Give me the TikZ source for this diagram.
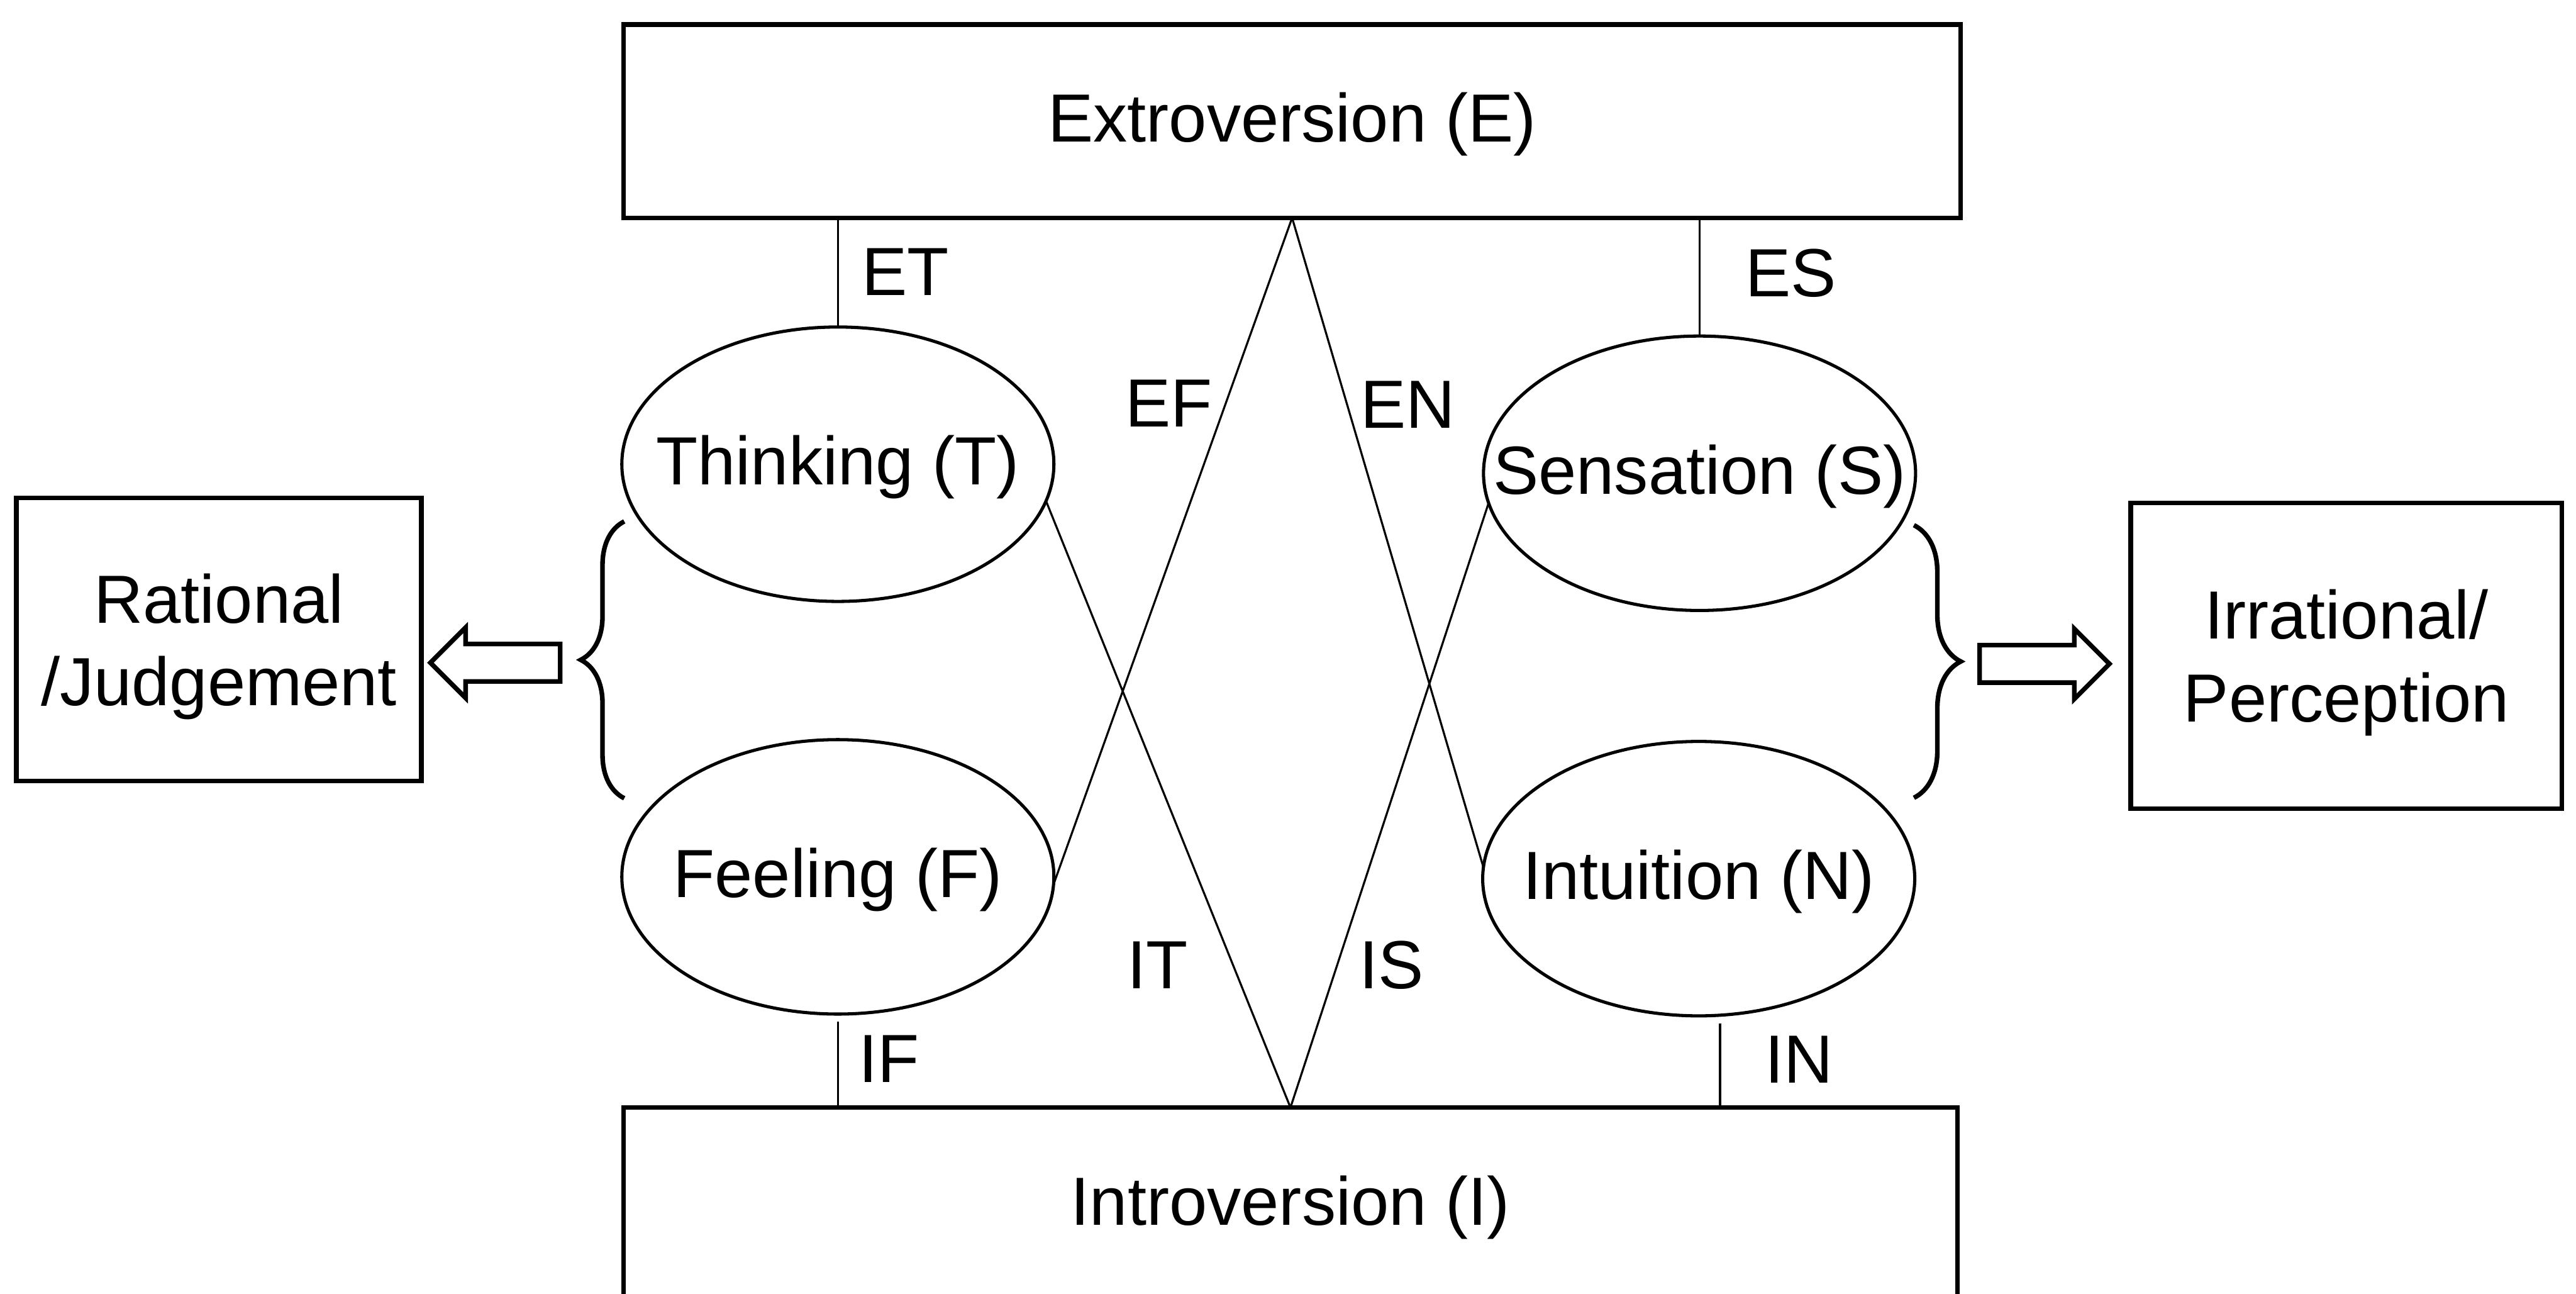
\documentclass[tikz,border=0pt]{standalone}
\usepackage{fontspec}
\setmainfont{Liberation Sans}
\usetikzlibrary{shapes.geometric,shapes.arrows,decorations.pathreplacing}
\newcommand{\lien}[2]{\draw[fin] (#1) -- (#2)}
\newcommand{\etiq}[3]{\node[etiq] (#1) at (#2) {#3}}
\newcommand{\fct}[3]{\node[fct] (#1) at (#2) {#3}}
\newcommand{\accol}[3]{\draw[line width=0.8pt, decorate,
	decoration={brace, amplitude=#3}] (#1) -- (#2)}

\tikzset{
	fin/.style={line width=0.35pt},
	pole/.style={draw, line width=0.8pt, rectangle, inner sep=0pt, outer sep=0pt,
		text height=0.9em, text depth=0.184em},
	cote/.style={draw, line width=0.8pt, rectangle, inner sep=0pt, outer sep=0pt,
		align=center, text depth=0pt},
	fct/.style={draw, ellipse, line width=0.55pt, inner xsep=-4mm, inner ysep=0pt,
		outer sep=0pt, minimum width=2.63cm, minimum height=1.67cm,
		text height=0.9em, text depth=0.184em},
	etiq/.style={inner sep=0pt, text height=0.9em, text depth=0.184em},
	bloc/.style={draw, single arrow, line width=0.8pt, inner xsep=0pt,
		inner ysep=1mm, outer sep=0pt, minimum height=7.9mm,
		single arrow head extend=1mm, single arrow tip angle=90}
}

\begin{document}
\begin{tikzpicture}[x=0.1mm, y=-0.1mm, font=\fontsize{11.8}{14.3}\selectfont]
\useasboundingbox (0,0) rectangle (1568,787.4);
%Attitudes
	\node[pole, minimum width=8.14cm, minimum height=1.176cm] (E) at (786.5,73.8) {Extroversion (E)};
	\node[pole, minimum width=8.12cm, minimum height=1.176cm] (I) at (785.5,732.8) {Introversion (I)};
%Functions
	\fct{T}{510,282.5}{Thinking (T)};
	\fct{F}{510,533.6}{Feeling (F)};
	\fct{S}{1034.5,288}{Sensation (S)};
	\fct{N}{1034,534.7}{Intuition (N)};
%Judgement and perception
	\node[cote, minimum width=2.465cm, minimum height=1.723cm] (R) at (133.25,389.2) {Rational\\/Judgement};
	\node[cote, minimum width=2.625cm, minimum height=1.86cm] (P) at (1428.25,399) {Irrational/\\Perception};
%Vertical links
	\coordinate (f) at ([yshift=-0.45mm]F.south);
	\coordinate (n) at ([shift={(1.3mm,-0.45mm)}]N.south);
	\lien{T.north}{T.north |- E.south};
	\lien{S.north}{S.north |- E.south};
	\lien{f}{f |- I.north};
	\lien{n}{n |- I.north};
%Crossed links
	\lien{E.south}{F.-2};
	\lien{E.south}{N.177};
	\lien{I.north}{T.-10};
	\lien{I.north}{S.188};
%Labels
	\etiq{lET}{551,167}{ET};
	\etiq{lES}{1090,168}{ES};
	\etiq{lEF}{711.5,247}{EF};
	\etiq{lEN}{857,248}{EN};
	\etiq{lIT}{704.7,589}{IT};
	\etiq{lIS}{847,589}{IS};
	\etiq{lIF}{541,646}{IF};
	\etiq{lIN}{1095,646.5}{IN};
%Braces
	\coordinate (bgh) at (380,317.3);
	\coordinate (bgb) at (380,485.8);
	\coordinate (bdh) at (1165,319.6);
	\coordinate (bdb) at (1165,485.5);
	\accol{bgb}{bgh}{2.65mm};
	\accol{bdh}{bdb}{2.85mm};
%Arrows
	\node[bloc, shape border rotate=180, anchor=tip] (fg) at (262,403.3) {};
	\node[bloc, anchor=tail] (fd) at (1205,404) {};
\end{tikzpicture}
\end{document}
